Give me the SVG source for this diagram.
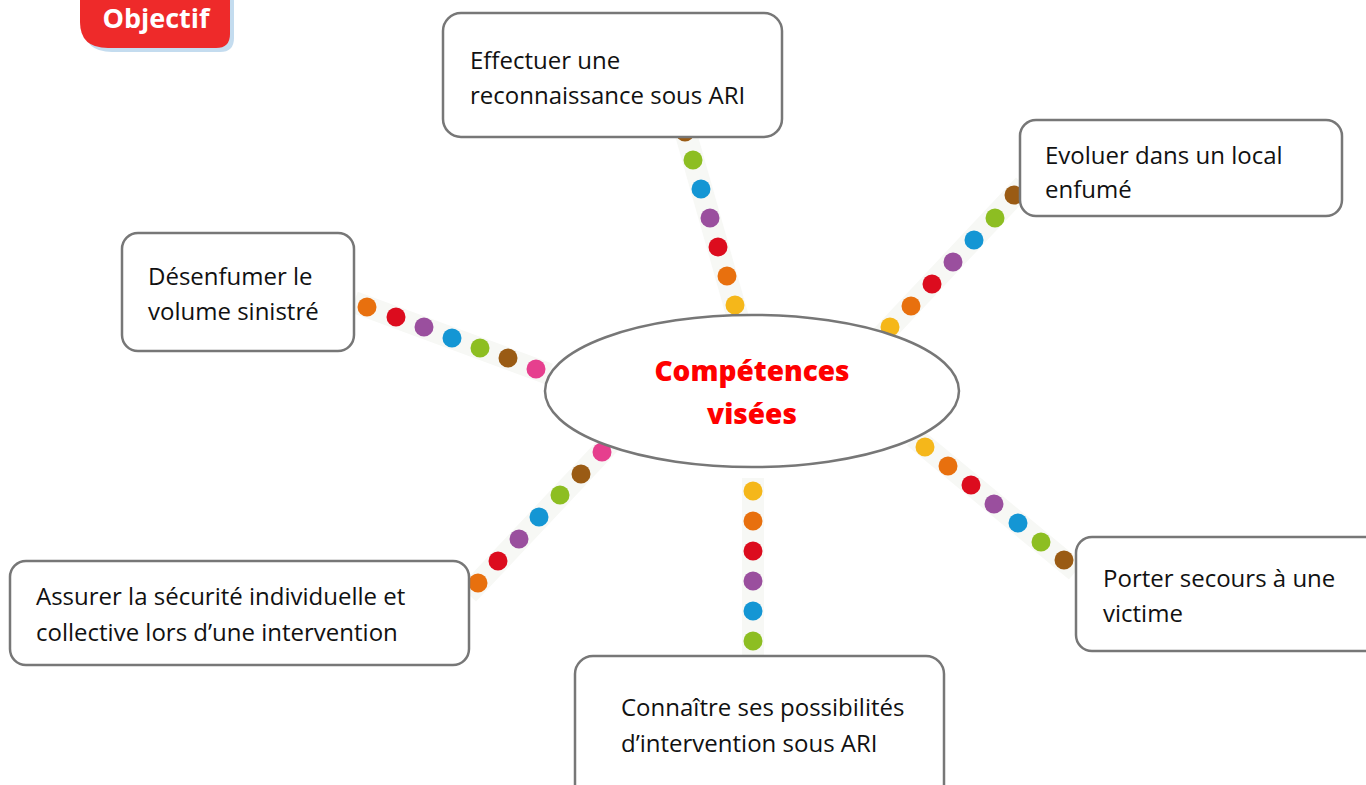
<svg xmlns="http://www.w3.org/2000/svg" width="1366" height="785" viewBox="0 0 1366 785">
<style>
.box{fill:#fff;stroke:#777;stroke-width:2.5}
.t{font-family:"Open Sans","Liberation Sans",sans-serif;font-size:24px;font-weight:400;fill:#111}
.strip{stroke:#f7f8f5;stroke-width:22;stroke-linecap:butt}
.y{fill:#F5B71A}.o{fill:#E8700E}.r{fill:#DC0C1E}.p{fill:#9A4F9E}.b{fill:#1496D4}.g{fill:#8DBE22}.br{fill:#9A5B14}.pk{fill:#E63F8E}
.ct{font-family:"Open Sans","Liberation Sans",sans-serif;font-size:28px;font-weight:800;fill:#FF0000}
</style>
<rect width="1366" height="785" fill="#fff"/>
<g id="connectors">
  <g id="c1">
    <line class="strip" x1="682" y1="120" x2="738" y2="318"/>
    <circle class="br" cx="685" cy="132" r="9.5"/>
    <circle class="g" cx="693" cy="160" r="9.5"/>
    <circle class="b" cx="701" cy="189" r="9.5"/>
    <circle class="p" cx="710" cy="218" r="9.5"/>
    <circle class="r" cx="718" cy="247" r="9.5"/>
    <circle class="o" cx="727" cy="276" r="9.5"/>
    <circle class="y" cx="735" cy="305" r="9.5"/>
  </g>
  <g id="c2">
    <line class="strip" x1="1024" y1="185" x2="880" y2="338"/>
    <circle class="br" cx="1014" cy="195" r="9.5"/>
    <circle class="g" cx="995" cy="218" r="9.5"/>
    <circle class="b" cx="974" cy="240" r="9.5"/>
    <circle class="p" cx="953" cy="262" r="9.5"/>
    <circle class="r" cx="932" cy="284" r="9.5"/>
    <circle class="o" cx="911" cy="306" r="9.5"/>
    <circle class="y" cx="890" cy="327" r="9.5"/>
  </g>
  <g id="c3">
    <line class="strip" x1="354" y1="302" x2="549" y2="374"/>
    <circle class="o" cx="367" cy="307" r="9.5"/>
    <circle class="r" cx="396" cy="317" r="9.5"/>
    <circle class="p" cx="424" cy="327" r="9.5"/>
    <circle class="b" cx="452" cy="338" r="9.5"/>
    <circle class="g" cx="480" cy="348" r="9.5"/>
    <circle class="br" cx="508" cy="358" r="9.5"/>
    <circle class="pk" cx="536" cy="369" r="9.5"/>
  </g>
  <g id="c4">
    <line class="strip" x1="612" y1="441" x2="468" y2="594"/>
    <circle class="pk" cx="602" cy="452" r="9.5"/>
    <circle class="br" cx="581" cy="474" r="9.5"/>
    <circle class="g" cx="560" cy="495" r="9.5"/>
    <circle class="b" cx="539" cy="517" r="9.5"/>
    <circle class="p" cx="519" cy="539" r="9.5"/>
    <circle class="r" cx="498" cy="561" r="9.5"/>
    <circle class="o" cx="478" cy="583" r="9.5"/>
  </g>
  <g id="c5">
    <line class="strip" x1="914" y1="437" x2="1076" y2="571"/>
    <circle class="y" cx="925" cy="447" r="9.5"/>
    <circle class="o" cx="948" cy="466" r="9.5"/>
    <circle class="r" cx="971" cy="485" r="9.5"/>
    <circle class="p" cx="994" cy="504" r="9.5"/>
    <circle class="b" cx="1018" cy="523" r="9.5"/>
    <circle class="g" cx="1041" cy="542" r="9.5"/>
    <circle class="br" cx="1064" cy="560" r="9.5"/>
  </g>
  <g id="c6">
    <line class="strip" x1="753" y1="478" x2="753" y2="656"/>
    <circle class="y" cx="753" cy="491" r="9.5"/>
    <circle class="o" cx="753" cy="521" r="9.5"/>
    <circle class="r" cx="753" cy="551" r="9.5"/>
    <circle class="p" cx="753" cy="581" r="9.5"/>
    <circle class="b" cx="753" cy="611" r="9.5"/>
    <circle class="g" cx="753" cy="641" r="9.5"/>
  </g>
</g>
<g id="objectif">
  <path d="M84,0 H234 V38 Q234,52 220,52 H112 Q84,52 84,26 Z" fill="#c4dcef"/>
  <path d="M80,0 H230 V34 Q230,48 216,48 H108 Q80,48 80,22 Z" fill="#EE2A2A"/>
  <text x="156" y="28" text-anchor="middle" font-family="'Open Sans','Liberation Sans',sans-serif" font-size="27" font-weight="700" fill="#fff">Objectif</text>
</g>
<g id="center">
  <ellipse cx="752" cy="391" rx="207" ry="76" fill="#fff" stroke="#777" stroke-width="2.5"/>
  <text class="ct" x="752" y="381" text-anchor="middle">Compétences</text>
  <text class="ct" x="752" y="424" text-anchor="middle">visées</text>
</g>
<g id="n1">
  <rect class="box" x="443" y="13" width="339" height="124" rx="18"/>
  <text class="t" x="470" y="69">Effectuer une</text>
  <text class="t" x="470" y="104">reconnaissance sous ARI</text>
</g>
<g id="n2">
  <rect class="box" x="1020" y="120" width="322" height="96" rx="16"/>
  <text class="t" x="1045" y="164">Evoluer dans un local</text>
  <text class="t" x="1045" y="198">enfumé</text>
</g>
<g id="n3">
  <rect class="box" x="122" y="233" width="232" height="118" rx="16"/>
  <text class="t" x="148" y="285">Désenfumer le</text>
  <text class="t" x="148" y="320">volume sinistré</text>
</g>
<g id="n4">
  <rect class="box" x="10" y="561" width="459" height="104" rx="16"/>
  <text class="t" x="36" y="605">Assurer la sécurité individuelle et</text>
  <text class="t" x="36" y="641">collective lors d’une intervention</text>
</g>
<g id="n5">
  <rect class="box" x="575" y="656" width="369" height="150" rx="18"/>
  <text class="t" x="621" y="716">Connaître ses possibilités</text>
  <text class="t" x="621" y="752">d’intervention sous ARI</text>
</g>
<g id="n6">
  <rect class="box" x="1076" y="537" width="310" height="114" rx="16"/>
  <text class="t" x="1103" y="587">Porter secours à une</text>
  <text class="t" x="1103" y="622">victime</text>
</g>
</svg>
